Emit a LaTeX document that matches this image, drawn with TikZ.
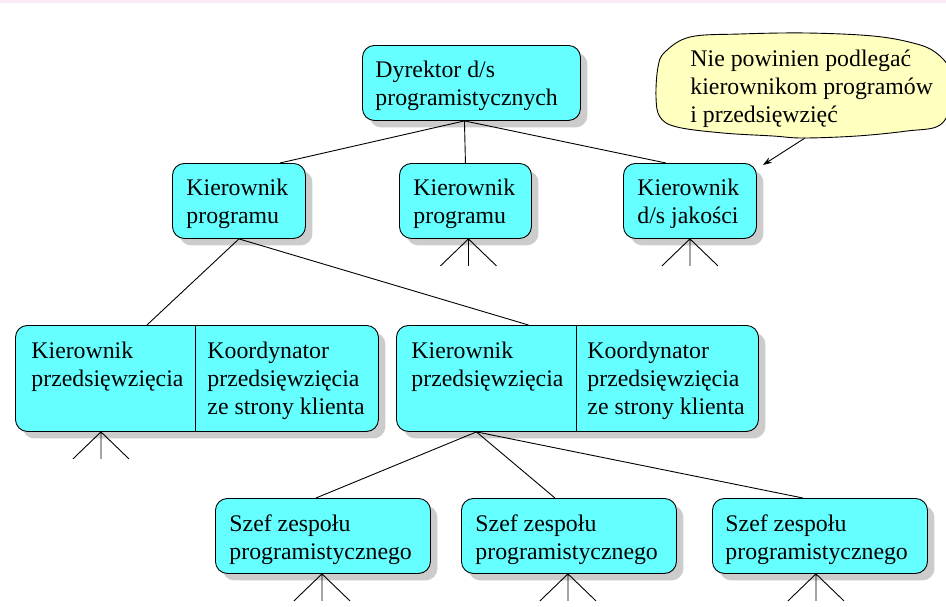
\documentclass[tikz,border=0pt]{standalone}
\usepackage{fontspec}
\setmainfont{Liberation Serif}
\usetikzlibrary{shadows,arrows.meta}
\definecolor{turkus}{RGB}{102,255,255}
\definecolor{cien}{RGB}{204,204,204}
\definecolor{chmurka}{RGB}{255,255,192}
\definecolor{pasek}{RGB}{252,234,250}

\begin{document}
\begin{tikzpicture}[x=1pt,y=-1pt,line width=0.9pt,
  box/.style={draw,fill=turkus,rounded corners=12pt,anchor=north west,inner sep=0pt,
    drop shadow={shadow xshift=7pt,shadow yshift=-7pt,fill=cien,opacity=1}},
  txt/.style={anchor=base west,inner sep=0pt,align=left,font=\fontsize{23.8}{28}\selectfont}]
\useasboundingbox (0,0) rectangle (946,606);
\fill[pasek] (0,0) rectangle (946,3);

\draw[fill=chmurka] plot[smooth cycle,tension=0.6] coordinates {
  (665,52) (690,37) (740,34) (807,33) (873,36) (913,43) (935,52) (950,70) (952,100)
  (940,125) (907,131) (857,136) (803,138) (773,136) (723,133) (677,127) (660,117)
  (656,97) (658,67)};
\node[txt] (chmt) at (690,122) {Nie powinien podlegać\\kierownikom programów\\i przedsięwzięć};

\node[box,minimum width=218,minimum height=75] (dyr) at (362,45) {};
\node[box,minimum width=133,minimum height=75] (kp1) at (172,163) {};
\node[box,minimum width=132,minimum height=75] (kp2) at (399,163) {};
\node[box,minimum width=133,minimum height=75] (kjak) at (623,163) {};
\node[box,minimum width=363,minimum height=106] (kprz1) at (15,325) {};
\node[box,minimum width=362,minimum height=106] (kprz2) at (396,325) {};
\node[box,minimum width=215,minimum height=75] (szef1) at (215,498) {};
\node[box,minimum width=215,minimum height=75] (szef2) at (461,498) {};
\node[box,minimum width=215,minimum height=75] (szef3) at (712,498) {};

\draw ([xshift=180pt]kprz1.north west) -- ([xshift=180pt]kprz1.south west);
\draw ([xshift=180pt]kprz2.north west) -- ([xshift=180pt]kprz2.south west);

\node[txt] (dyrt) at (375,105) {Dyrektor d/s\\programistycznych};
\node[txt] (kp1t) at (186,223) {Kierownik\\programu};
\node[txt] (kp2t) at (413,223) {Kierownik\\programu};
\node[txt] (kjakt) at (637,223) {Kierownik\\d/s jakości};
\node[txt] (kprz1a) at (31,386) {Kierownik\\przedsięwzięcia};
\node[txt] (kprz1b) at (207,414) {Koordynator\\przedsięwzięcia\\ze strony klienta};
\node[txt] (kprz2a) at (411,386) {Kierownik\\przedsięwzięcia};
\node[txt] (kprz2b) at (587,414) {Koordynator\\przedsięwzięcia\\ze strony klienta};
\node[txt] (szef1t) at (229,559) {Szef zespołu\\programistycznego};
\node[txt] (szef2t) at (475,559) {Szef zespołu\\programistycznego};
\node[txt] (szef3t) at (725,559) {Szef zespołu\\programistycznego};

\coordinate (dyrw) at ([xshift=-7pt]dyr.south);
\draw (dyrw) -- ([xshift=41pt]kp1.north);
\draw (dyrw) -- (kp2.north);
\draw (dyrw) -- ([xshift=-24pt]kjak.north);
\draw ([xshift=-50pt]kprz1.north) -- (kp1.south) -- ([xshift=-49pt]kprz2.north);
\coordinate (kprz2w) at ([xshift=-101pt]kprz2.south);
\draw (kprz2w) -- ([xshift=-7pt]szef1.north);
\draw (kprz2w) -- ([xshift=-14pt]szef2.north);
\draw (kprz2w) -- ([xshift=-17pt]szef3.north);

\foreach \n/\dx in {kp2/3,kjak/0,kprz1/-96,szef1/-1,szef2/-1,szef3/-4}{
  \coordinate (\n-w) at ([xshift=\dx pt]\n.south);
  \coordinate (\n-l) at ([shift={(-28,27)}]\n-w);
  \coordinate (\n-d) at ([shift={(0,27)}]\n-w);
  \coordinate (\n-r) at ([shift={(28,27)}]\n-w);
  \draw (\n-l) -- (\n-w) -- (\n-r) (\n-w) -- (\n-d);
}

\coordinate (chm-ogon) at (805,138);
\draw[-{Stealth[length=9pt,width=6pt]}] (chm-ogon) -- ([xshift=6pt,yshift=-2pt]kjak.north east);
\end{tikzpicture}
\end{document}
